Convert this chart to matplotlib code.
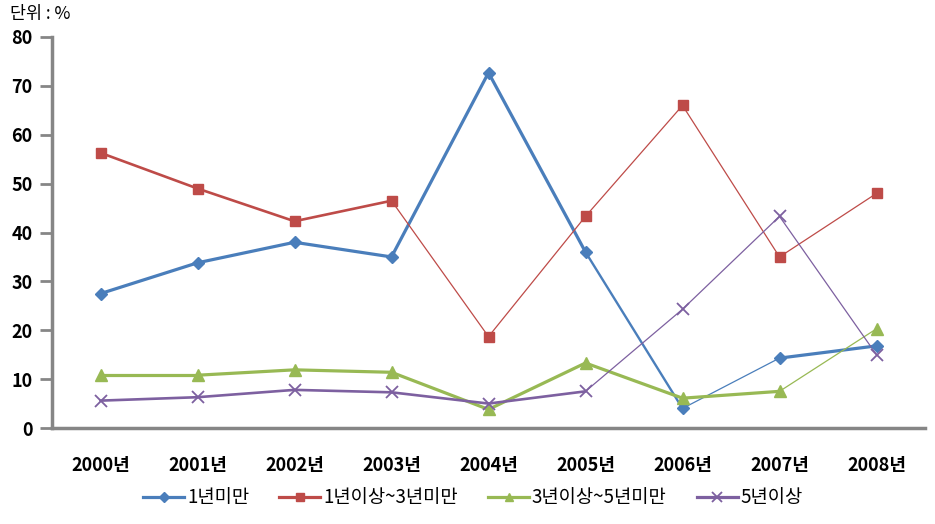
import matplotlib
matplotlib.use("Agg")
import matplotlib.pyplot as plt
from matplotlib.lines import Line2D

plt.rcParams['font.family'] = ['Noto Sans CJK KR', 'DejaVu Sans']

years = ['2000년', '2001년', '2002년', '2003년', '2004년', '2005년', '2006년', '2007년', '2008년']
names = ['1년미만', '1년이상~3년미만', '3년이상~5년미만', '5년이상']
s1 = [27.5, 33.8, 38.0, 35.0, 72.7, 36.0, 4.0, 14.3, 16.8]
s2 = [56.3, 49.0, 42.3, 46.5, 18.7, 43.3, 66.0, 35.0, 48.0]
s3 = [10.8, 10.8, 11.9, 11.4, 3.8, 13.3, 6.1, 7.5, 20.3]
s4 = [5.6, 6.3, 7.8, 7.3, 5.0, 7.5, 24.3, 43.3, 15.0]
series = [s1, s2, s3, s4]

colors = ['#4A7EBB', '#BE4B48', '#98B954', '#7D60A0']
markers = ['D', 's', '^', 'x']
msizes = [6.5, 7.5, 8, 9]
# segment widths (style only)
seg_w = [
    [2.3, 2.3, 2.3, 2.3, 2.3, 1.7, 0.9, 2.3],
    [1.9, 1.9, 1.9, 0.9, 0.9, 0.9, 0.9, 0.9],
    [2.3, 2.3, 2.3, 2.3, 2.3, 2.3, 2.3, 0.9],
    [1.9, 1.9, 1.9, 1.9, 1.9, 0.9, 0.9, 0.9],
]

fig = plt.figure(figsize=(9.35, 5.24), dpi=100)
ax = fig.add_axes([52/935, 1-428/524, 873/935, (428-37)/524])

x = list(range(len(years)))
for k, s in enumerate(series):
    for i in range(len(x)-1):
        ax.plot(x[i:i+2], s[i:i+2], color=colors[k], lw=seg_w[k][i],
                solid_capstyle='round', zorder=2)
    if markers[k] == 'x':
        ax.plot(x, s, ls='none', marker='x', ms=msizes[k], mew=1.3,
                color=colors[k], zorder=3)
    else:
        ax.plot(x, s, ls='none', marker=markers[k], ms=msizes[k],
                color=colors[k], mec=colors[k], zorder=3)

ax.set_xlim(-0.5, 8.5)
ax.set_ylim(0, 80)
ax.set_yticks(range(0, 81, 10))
ax.set_xticks(x)
ax.set_xticklabels(years)
for sp in ['top', 'right']:
    ax.spines[sp].set_visible(False)
for sp in ['left', 'bottom']:
    ax.spines[sp].set_color('#868686')
    ax.spines[sp].set_linewidth(2.5)
ax.tick_params(axis='y', direction='out', length=9, width=2, color='#868686',
               labelsize=13, pad=5)
ax.tick_params(axis='x', length=0, labelsize=13, pad=20)
for t in ax.get_xticklabels() + ax.get_yticklabels():
    t.set_fontweight('bold')

fig.text(10/935, 1-14/524, '단위 : %', fontsize=12.5, va='center', ha='left')

handles = []
for k in range(4):
    handles.append(Line2D([0], [0], color=colors[k], lw=2.3, marker=markers[k],
                          ms=msizes[k]*0.8, mew=1.3 if markers[k] == 'x' else 1,
                          mec=colors[k]))
fig.legend(handles, names, loc='center', bbox_to_anchor=(473/935, 1-498/524), ncol=4,
           frameon=False, prop={'size': 13.5}, handlelength=2.2,
           columnspacing=1.6, handletextpad=0.15)

fig.savefig('out.png', dpi=100)
